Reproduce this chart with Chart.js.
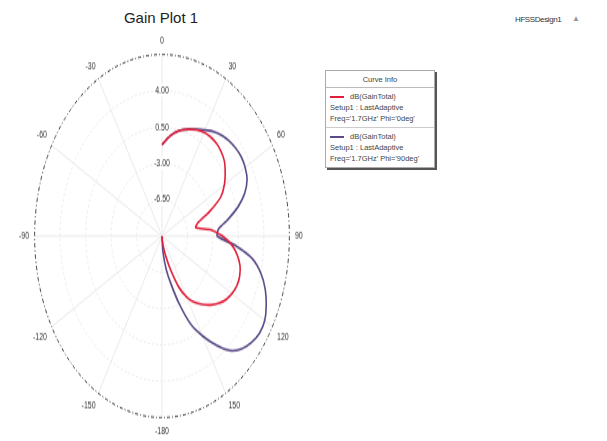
<!DOCTYPE html>
<html>
<head>
<meta charset="utf-8">
<script src="https://cdn.jsdelivr.net/npm/chart.js@4.4.1/dist/chart.umd.min.js"></script>
<style>
  body { margin: 0; background: #fff; width: 607px; height: 441px; overflow: hidden; position: relative;
         font-family: "Liberation Sans", Arial, sans-serif; }
  #title { position: absolute; left: 0; width: 322px; top: 9px; text-align: center; font-size: 15px; color: #222; }
  #design { position: absolute; left: 515px; top: 15px; font-size: 8px; color: #333; letter-spacing: -0.4px; }
  #tri { position: absolute; left: 572px; top: 14px; font-size: 8px; color: #999; }
  #wrap { position: absolute; left: 18px; top: 93px; width: 286px; height: 286px;
          transform: scaleY(1.425); transform-origin: 50% 50%; }
  #info { position: absolute; left: 325px; top: 70px; width: 108px; border: 1px solid #aaa;
          box-shadow: 2px 2px 0 #555; font-size: 7.5px; color: #444; background: #fff; line-height: 11px; }
  #info .hd { text-align: center; border-bottom: 1px solid #bbb; padding: 3px 0 2px; }
  #info .en { padding: 3px 3px 3px 4px; }
  #info .en + .en { border-top: 1px solid #ccc; }
  #info .sw { display: inline-block; width: 14px; height: 0; border-top: 2px solid; vertical-align: middle; margin-right: 6px; }
</style>
</head>
<body>
<div id="title">Gain Plot 1</div>
<div id="design">HFSSDesign1</div>
<div id="tri">&#9650;</div>
<div id="wrap"><canvas id="myChart" width="286" height="286"></canvas></div>
<div id="info">
  <div class="hd">Curve Info</div>
  <div class="en"><span class="sw" style="border-color:#e0203a"></span>dB(GainTotal)<br>Setup1 : LastAdaptive<br>Freq='1.7GHz' Phi='0deg'</div>
  <div class="en"><span class="sw" style="border-color:#5a4a88"></span>dB(GainTotal)<br>Setup1 : LastAdaptive<br>Freq='1.7GHz' Phi='90deg'</div>
</div>
<script>
// theta from 0 to 180 deg, 5 deg step
var gainPhi0 = [-1.2, -0.5, 0.1, 0.6, 0.95, 1.3, 1.55, 1.65, 1.65, 1.5,
                1.2, 0.6, -0.1, -1.1, -3.0, -4.8, -5.3, -3.2, -1.7, -0.4,
                0.5, 1.1, 1.35, 1.35, 1.1, 0.7, 0.1, -0.6, -1.4, -2.2,
                -3.2, -4.6, -6.5, -8.0, -9.0, -9.6, -10];
var gainPhi90 = [-1.2, -0.5, 0.1, 0.6, 0.95, 1.35, 1.8, 2.3, 2.7, 3.0,
                 3.2, 3.3, 3.2, 2.9, 2.1, 0.8, -0.8, -2.2, -2.4, 0.0,
                 2.6, 4.1, 5.1, 5.8, 6.3, 6.35, 6.0, 5.4, 4.4, 2.8,
                 1.1, -0.6, -3.0, -5.2, -6.8, -8.5, -10];
var radialTicks = [-10, -6.5, -3, 0.5, 4, 7.5];

// angle labels, clockwise from the top: 0 ... 175, -180 ... -5
var angles = [];
for (var a = 0; a < 360; a += 5) {
    angles.push(String(a < 180 ? a : a - 360));
}

function padded(values) {
    var out = values.slice();
    while (out.length < angles.length) out.push(null);
    return out;
}

var ctx = document.getElementById('myChart').getContext('2d');
var chart = new Chart(ctx, {
    type: 'radar',
    data: {
        labels: angles,
        datasets: [{
            label: "Phi='0deg'",
            borderColor: '#e0203a',
            data: padded(gainPhi0)
        }, {
            label: "Phi='90deg'",
            borderColor: '#5a4a88',
            data: padded(gainPhi90)
        }]
    },
    options: {
        responsive: false,
        animation: false,
        elements: {
            line: { borderWidth: 1.6, tension: 0.25, fill: false },
            point: { radius: 0, hoverRadius: 0 }
        },
        plugins: { legend: { display: false }, tooltip: { enabled: false } },
        scales: {
            r: {
                min: radialTicks[0],
                max: radialTicks[radialTicks.length - 1],
                ticks: {
                    stepSize: 3.5,
                    color: '#333',
                    font: { size: 7, family: 'Liberation Sans' },
                    backdropPadding: 1,
                    backdropColor: function (c) {
                        return (c.index === 0 || c.index === radialTicks.length - 1) ? 'rgba(0,0,0,0)' : '#fff';
                    },
                    callback: function (v, i, t) {
                        if (i === 0 || i === t.length - 1) return '';
                        return v.toFixed(2);
                    }
                },
                grid: {
                    circular: true,
                    color: function (c) { return c.index === radialTicks.length - 1 ? '#222' : '#e4e4e4'; },
                    lineWidth: function (c) { return c.index === radialTicks.length - 1 ? 0.9 : 0.8; }
                },
                border: {
                    dash: function (c) { return c.index === radialTicks.length - 1 ? [3, 2, 1, 2] : [2, 2]; }
                },
                angleLines: {
                    color: function (c) { return c.index % 6 === 0 ? '#e4e4e4' : 'rgba(0,0,0,0)'; },
                    lineWidth: 0.8
                },
                pointLabels: {
                    color: '#333',
                    padding: 1,
                    font: { size: 7, family: 'Liberation Sans' },
                    callback: function (label, i) { return i % 6 === 0 ? label : ''; }
                }
            }
        }
    }
});
</script>
</body>
</html>
